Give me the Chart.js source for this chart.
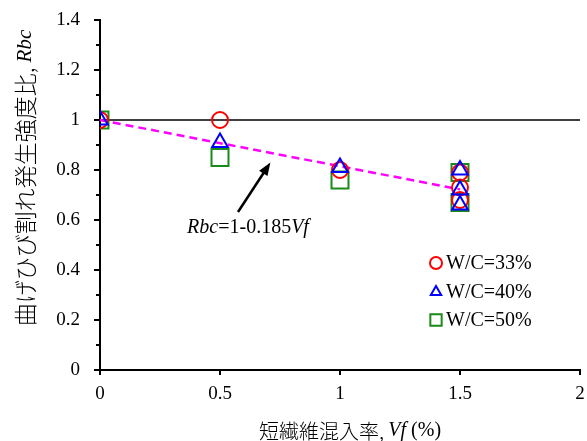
<!DOCTYPE html>
<html><head><meta charset="utf-8">
<script src="https://cdn.jsdelivr.net/npm/chart.js@4/dist/chart.umd.min.js"></script>
<style>html,body{margin:0;padding:0;background:#fff}</style>
</head><body>
<canvas id="c" width="587" height="441"></canvas>
<script>
// ---- data ----
const seriesLabels = ['W/C=33%', 'W/C=40%', 'W/C=50%'];
const vfWC33 = [0, 0.5, 1, 1.5, 1.5, 1.5];
const rbcWC33 = [1.0, 1.0, 0.80, 0.79, 0.73, 0.68];
const vfWC40 = [0, 0.5, 1, 1.5, 1.5, 1.5];
const rbcWC40 = [1.0, 0.91, 0.81, 0.80, 0.72, 0.66];
const vfWC50 = [0, 0.5, 1, 1.5, 1.5];
const rbcWC50 = [1.0, 0.85, 0.76, 0.79, 0.67];
const trendX = [0, 1.5];
const trendY = trendX.map(v => 1 - 0.185 * v);
const refX = [0, 2];
const refY = [1, 1];
const xTicks = [0, 0.5, 1, 1.5, 2];
const yTicks = [0, 0.2, 0.4, 0.6, 0.8, 1, 1.2, 1.4];
const yMinorTicks = [0.1, 0.3, 0.5, 0.7, 0.9, 1.1, 1.3];
const arrowFrom = [0.575, 0.632];
const arrowTo = [0.71, 0.83];

const pts = (xs, ys) => xs.map((x, i) => ({x, y: ys[i]}));
const SERIF = '"Liberation Serif", "Times New Roman", serif';
const JP = '"Noto Sans CJK JP", sans-serif';

function drawRich(ctx, parts, x, y, align) {
  let total = 0;
  parts.forEach(p => { ctx.font = p[1]; total += ctx.measureText(p[0]).width; });
  let cx = align === 'center' ? x - total / 2 : x;
  ctx.textAlign = 'left';
  parts.forEach(p => { ctx.font = p[1]; ctx.fillText(p[0], cx, y); cx += ctx.measureText(p[0]).width; });
}

const extras = {
  id: 'extras',
  afterDraw(chart) {
    const {ctx, scales: {x, y}} = chart;
    ctx.save();
    ctx.strokeStyle = '#000'; ctx.lineWidth = 2;
    const ax = x.getPixelForValue(0);
    yMinorTicks.forEach(v => {
      const py = y.getPixelForValue(v);
      ctx.beginPath(); ctx.moveTo(ax - 4, py); ctx.lineTo(ax, py); ctx.stroke();
    });
    const x1 = x.getPixelForValue(arrowFrom[0]), y1 = y.getPixelForValue(arrowFrom[1]);
    const x2 = x.getPixelForValue(arrowTo[0]), y2 = y.getPixelForValue(arrowTo[1]);
    const ang = Math.atan2(y2 - y1, x2 - x1);
    ctx.lineWidth = 2.5;
    ctx.beginPath(); ctx.moveTo(x1, y1); ctx.lineTo(x2 - 8 * Math.cos(ang), y2 - 8 * Math.sin(ang)); ctx.stroke();
    ctx.fillStyle = '#000';
    ctx.beginPath();
    ctx.moveTo(x2, y2);
    ctx.lineTo(x2 - 13 * Math.cos(ang) + 5 * Math.sin(ang), y2 - 13 * Math.sin(ang) - 5 * Math.cos(ang));
    ctx.lineTo(x2 - 13 * Math.cos(ang) - 5 * Math.sin(ang), y2 - 13 * Math.sin(ang) + 5 * Math.cos(ang));
    ctx.closePath(); ctx.fill();
    ctx.textBaseline = 'middle';
    drawRich(ctx, [['Rbc', 'italic 20px ' + SERIF], ['=1-0.185', '20px ' + SERIF], ['Vf', 'italic 20px ' + SERIF]], 248, 228, 'center');
    drawRich(ctx, [['短繊維混入率, ', '300 20px ' + JP], ['Vf', 'italic 20px ' + SERIF], [' (%)', '20px ' + SERIF]], 350, 431, 'center');
    ctx.save();
    ctx.translate(25, 178); ctx.rotate(-Math.PI / 2);
    drawRich(ctx, [['曲げひび割れ発生強度比, ', '300 23px ' + JP], ['Rbc', 'italic 21px ' + SERIF]], 0, 0, 'center');
    ctx.restore();
    const ly = [263, 292, 320];
    chart.data.datasets.slice(0, 3).forEach((ds, i) => {
      ctx.save();
      ctx.strokeStyle = ds.borderColor;
      ctx.fillStyle = 'rgba(0,0,0,0)';
      ctx.lineWidth = 2;
      Chart.helpers.drawPoint(ctx, {pointStyle: ds.pointStyle, radius: ds.pointStyle === 'rect' ? 8 : 6, borderWidth: 2}, 436, ly[i]);
      ctx.restore();
      ctx.fillStyle = '#000';
      ctx.font = '20px ' + SERIF; ctx.textAlign = 'left'; ctx.textBaseline = 'middle';
      ctx.fillText(ds.label, 446, ly[i] + 1);
    });
    ctx.restore();
  }
};

function zeroPad(s) { s.paddingTop = 0; s.paddingBottom = 0; s.paddingLeft = 0; s.paddingRight = 0; }

new Chart(document.getElementById('c'), {
  type: 'scatter',
  data: {
    datasets: [
      {label: seriesLabels[0], data: pts(vfWC33, rbcWC33), pointStyle: 'circle', pointRadius: 8, borderColor: '#ff0000', backgroundColor: 'rgba(0,0,0,0)', borderWidth: 2, order: 2},
      {label: seriesLabels[1], data: pts(vfWC40, rbcWC40), pointStyle: 'triangle', pointRadius: 9, borderColor: '#0000ff', backgroundColor: 'rgba(0,0,0,0)', borderWidth: 2, order: 1},
      {label: seriesLabels[2], data: pts(vfWC50, rbcWC50), pointStyle: 'rect', pointRadius: 12, borderColor: '#1a8a1a', backgroundColor: 'rgba(0,0,0,0)', borderWidth: 2, order: 3},
      {label: 'trend', data: pts(trendX, trendY), showLine: true, pointRadius: 0, borderColor: '#ff00ff', borderWidth: 2.5, borderDash: [8, 5], order: 4},
      {label: 'ref', data: pts(refX, refY), showLine: true, pointRadius: 0, borderColor: '#000', borderWidth: 1.3, order: 5}
    ]
  },
  options: {
    responsive: false,
    animation: false,
    layout: {autoPadding: false, padding: {top: 20, right: 7, left: 0, bottom: 0}},
    plugins: {legend: {display: false}, tooltip: {enabled: false}},
    scales: {
      x: {
        type: 'linear', min: 0, max: 2,
        afterBuildTicks: s => { s.ticks = xTicks.map(v => ({value: v})); },
        afterFit: s => { s.height = 71; zeroPad(s); },
        ticks: {color: '#000', font: {family: SERIF, size: 19}, padding: 8, maxRotation: 0,
          callback: v => String(v)},
        grid: {drawOnChartArea: false, drawTicks: true, tickLength: 5, color: '#000', lineWidth: 2},
        border: {color: '#000', width: 2}
      },
      y: {
        type: 'linear', min: 0, max: 1.4,
        afterBuildTicks: s => { s.ticks = yTicks.map(v => ({value: v})); },
        afterFit: s => { s.width = 100; zeroPad(s); },
        ticks: {color: '#000', font: {family: SERIF, size: 19}, padding: 14,
          callback: v => String(Math.round(v * 10) / 10)},
        grid: {drawOnChartArea: false, drawTicks: true, tickLength: 6, color: '#000', lineWidth: 2},
        border: {color: '#000', width: 2}
      }
    }
  },
  plugins: [extras]
});
</script>
</body></html>
